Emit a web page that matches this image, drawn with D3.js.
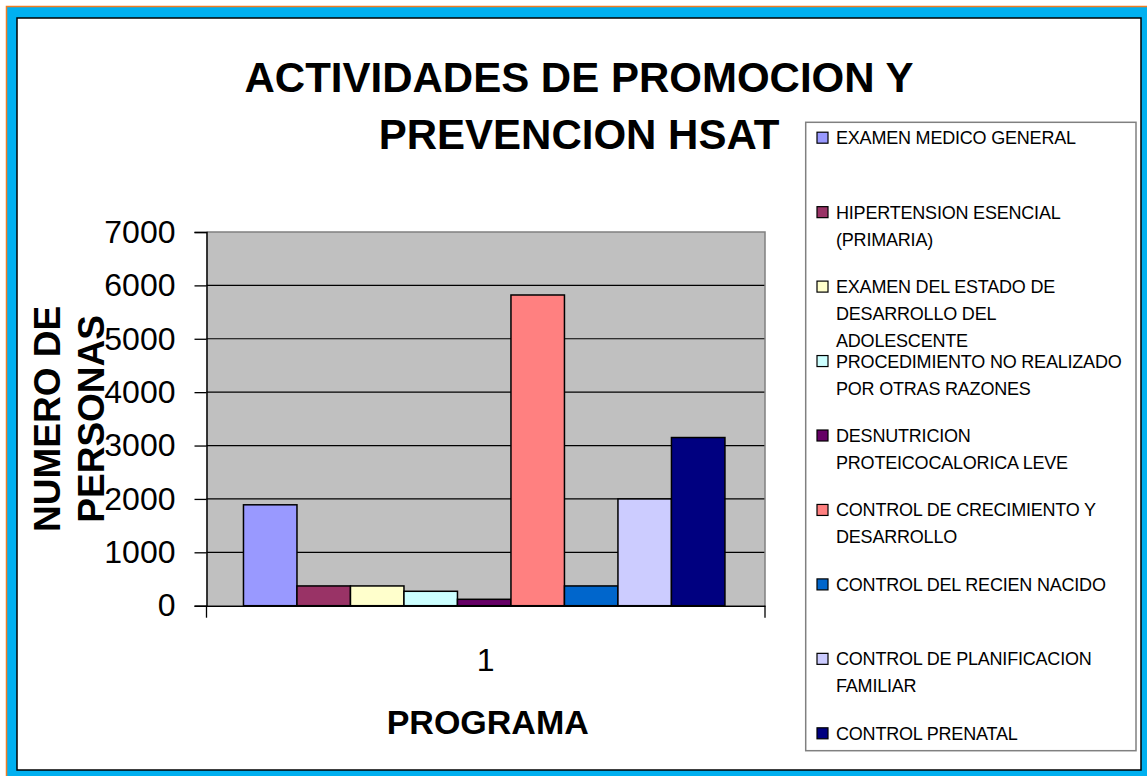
<!DOCTYPE html>
<html lang="es">
<head>
<meta charset="utf-8">
<title>Actividades de promocion y prevencion HSAT</title>
<script src="https://cdn.jsdelivr.net/npm/d3@7"></script>
<style>
  html, body { margin: 0; padding: 0; background: #fff; }
  svg { display: block; font-family: 'Liberation Sans', Arial, sans-serif; }
</style>
</head>
<body>
<div id="chart"></div>
<script>
// datos del grafico
const categorias = ['1'];
const series = [
  'EXAMEN MEDICO GENERAL',
  'HIPERTENSION ESENCIAL\n(PRIMARIA)',
  'EXAMEN DEL ESTADO DE\nDESARROLLO DEL\nADOLESCENTE',
  'PROCEDIMIENTO NO REALIZADO\nPOR OTRAS RAZONES',
  'DESNUTRICION\nPROTEICOCALORICA LEVE',
  'CONTROL DE CRECIMIENTO Y\nDESARROLLO',
  'CONTROL DEL RECIEN NACIDO',
  'CONTROL DE PLANIFICACION\nFAMILIAR',
  'CONTROL PRENATAL'
];
const valores = [1890, 370, 370, 270, 120, 5820, 370, 2000, 3150];
const colores = ['#9999FF', '#993366', '#FFFFCC', '#CCFFFF', '#660066', '#FF8080', '#0066CC', '#CCCCFF', '#000080'];
const ticksY = [0, 1000, 2000, 3000, 4000, 5000, 6000, 7000];
const titulo = ['ACTIVIDADES DE PROMOCION Y', 'PREVENCION HSAT'];
const tituloY = ['NUMERO DE', 'PERSONAS'];
const tituloX = 'PROGRAMA';

(function() {
  'use strict';

  const W = 1147, H = 776;
  const plot = { left: 206.5, right: 765, top: 232, bottom: 605.7 };

  const svg = d3.select('#chart').append('svg')
    .attr('width', W)
    .attr('height', H);

  // marco exterior
  svg.append('rect')
    .attr('x', 6.5).attr('y', 6.5)
    .attr('width', W).attr('height', H)
    .attr('fill', '#00B0F0')
    .attr('stroke', '#F07D22')
    .attr('stroke-width', 1.5);

  svg.append('rect')
    .attr('x', 17).attr('y', 18)
    .attr('width', 1141 - 17).attr('height', 770 - 18)
    .attr('fill', '#fff')
    .attr('stroke', '#000')
    .attr('stroke-width', 1.5);

  // titulo
  svg.append('text')
    .attr('x', 579)
    .attr('text-anchor', 'middle')
    .attr('font-size', '42px')
    .attr('font-weight', 'bold')
    .selectAll('tspan')
    .data(titulo)
    .enter()
    .append('tspan')
    .attr('x', 579)
    .attr('y', (d, i) => 92 + i * 57)
    .text(d => d);

  // escalas
  const x0 = d3.scaleBand()
    .domain(categorias)
    .range([plot.left, plot.right])
    .padding(0);

  const x1 = d3.scaleBand()
    .domain(series)
    .range([0, x0.bandwidth()])
    .paddingInner(0)
    .paddingOuter(0.72)
    .align(0.48);

  const y = d3.scaleLinear()
    .domain([0, 7000])
    .range([plot.bottom, plot.top]);

  // area del grafico
  svg.append('rect')
    .attr('x', plot.left)
    .attr('y', plot.top)
    .attr('width', plot.right - plot.left)
    .attr('height', plot.bottom - plot.top)
    .attr('fill', '#C0C0C0');

  // lineas de division
  svg.append('g')
    .selectAll('line')
    .data(ticksY.filter(t => t > 0 && t < 7000))
    .enter()
    .append('line')
    .attr('x1', plot.left)
    .attr('x2', plot.right)
    .attr('y1', d => y(d))
    .attr('y2', d => y(d))
    .attr('stroke', '#000')
    .attr('stroke-width', 1.2);

  // borde superior y derecho
  svg.append('path')
    .attr('d', `M${plot.left},${plot.top}H${plot.right}V${plot.bottom}`)
    .attr('fill', 'none')
    .attr('stroke', '#808080')
    .attr('stroke-width', 1.5);

  // barras
  const grupo = svg.append('g')
    .attr('transform', `translate(${x0(categorias[0])},0)`);

  grupo.selectAll('.bar')
    .data(series.map((s, i) => ({ serie: s, valor: valores[i], color: colores[i] })))
    .enter()
    .append('rect')
    .attr('class', 'bar')
    .attr('x', d => x1(d.serie))
    .attr('y', d => y(d.valor))
    .attr('width', x1.bandwidth())
    .attr('height', d => y(0) - y(d.valor))
    .attr('fill', d => d.color)
    .attr('stroke', '#000')
    .attr('stroke-width', 1.5);

  // eje Y
  const ejeY = svg.append('g')
    .attr('transform', `translate(${plot.left},0)`)
    .call(d3.axisLeft(y).tickValues(ticksY).tickFormat(d3.format('d')).tickSize(12).tickPadding(19));
  ejeY.select('.domain').attr('stroke', '#000').attr('stroke-width', 1.5);
  ejeY.selectAll('.tick line').attr('stroke', '#000').attr('stroke-width', 1.3);
  ejeY.selectAll('.tick text')
    .attr('font-size', '32px')
    .attr('font-family', "'Liberation Sans', Arial, sans-serif")
    .attr('fill', '#000');

  // eje X
  const ejeX = svg.append('g')
    .attr('transform', `translate(0,${plot.bottom})`)
    .call(d3.axisBottom(x0).tickSize(0).tickPadding(43));
  ejeX.select('.domain').attr('stroke', '#000').attr('stroke-width', 1.5);
  ejeX.selectAll('.tick text')
    .attr('font-size', '32px')
    .attr('font-family', "'Liberation Sans', Arial, sans-serif")
    .attr('fill', '#000');

  // marcas en los bordes de la categoria
  ejeX.selectAll('.edge')
    .data(x0.range())
    .enter()
    .append('line')
    .attr('x1', d => d)
    .attr('x2', d => d)
    .attr('y1', 0)
    .attr('y2', 12)
    .attr('stroke', '#000')
    .attr('stroke-width', 1.3);

  // titulo del eje X
  svg.append('text')
    .attr('x', (plot.left + plot.right) / 2 + 2)
    .attr('y', 734)
    .attr('text-anchor', 'middle')
    .attr('font-size', '34px')
    .attr('font-weight', 'bold')
    .text(tituloX);

  // titulo del eje Y
  svg.append('text')
    .attr('transform', `translate(0,${(plot.top + plot.bottom) / 2}) rotate(-90)`)
    .attr('text-anchor', 'middle')
    .attr('font-size', '37px')
    .attr('font-weight', 'bold')
    .selectAll('tspan')
    .data(tituloY)
    .enter()
    .append('tspan')
    .attr('x', 0)
    .attr('y', (d, i) => 60 + i * 43.5)
    .text(d => d);

  // leyenda
  const leyenda = { left: 805.7, top: 122.3, right: 1136, bottom: 750.7 };

  svg.append('rect')
    .attr('x', leyenda.left)
    .attr('y', leyenda.top)
    .attr('width', leyenda.right - leyenda.left)
    .attr('height', leyenda.bottom - leyenda.top)
    .attr('fill', '#fff')
    .attr('stroke', '#808080')
    .attr('stroke-width', 1.5);

  const yLeyenda = d3.scalePoint()
    .domain(series)
    .range([137.7, 733.3]);

  const items = svg.append('g')
    .selectAll('.item')
    .data(series.map((s, i) => ({ serie: s, color: colores[i] })))
    .enter()
    .append('g')
    .attr('class', 'item')
    .attr('transform', d => `translate(0,${yLeyenda(d.serie)})`);

  items.append('rect')
    .attr('x', 817)
    .attr('y', -5.5)
    .attr('width', 11)
    .attr('height', 11)
    .attr('fill', d => d.color)
    .attr('stroke', '#000')
    .attr('stroke-width', 1.2);

  items.append('text')
    .attr('font-size', '18px')
    .attr('letter-spacing', '-0.2px')
    .attr('fill', '#000')
    .selectAll('tspan')
    .data(d => d.serie.split('\n'))
    .enter()
    .append('tspan')
    .attr('x', 836)
    .attr('y', (d, i) => 6.5 + i * 27)
    .text(d => d);
})();
</script>
</body>
</html>
